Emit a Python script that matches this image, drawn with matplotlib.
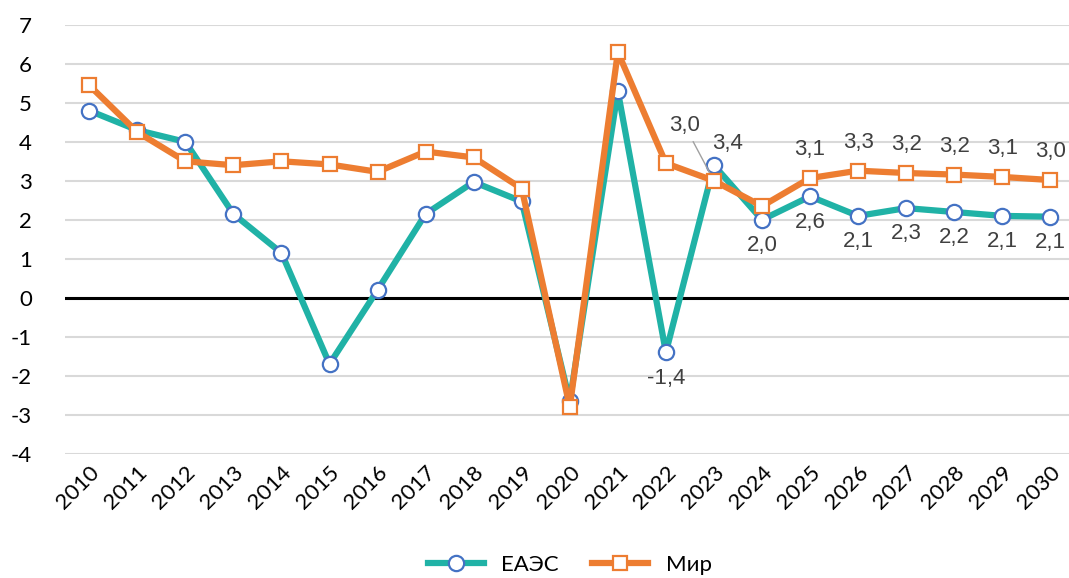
import matplotlib
matplotlib.use("Agg")
import matplotlib.pyplot as plt

years = list(range(2010, 2031))
eaes = [4.8, 4.3, 4.0, 2.15, 1.15, -1.7, 0.2, 2.15, 2.97, 2.47, -2.65, 5.3, -1.4,
        3.4, 2.0, 2.6, 2.1, 2.3, 2.2, 2.1, 2.08]
mir = [5.45, 4.25, 3.5, 3.4, 3.5, 3.42, 3.23, 3.75, 3.6, 2.8, -2.8, 6.3, 3.45,
       3.0, 2.35, 3.07, 3.26, 3.2, 3.16, 3.1, 3.02]
y_ticks = list(range(-4, 8))

teal = "#20B2A6"
orange = "#ED7D31"
blue = "#4472C4"

fig = plt.figure(figsize=(10.69, 5.78), dpi=100)
# right edge of the plot area runs slightly past the figure, as in the source
ax = fig.add_axes([0.061, 0.215, 0.944, 0.742])

x = list(range(len(years)))
ax.plot(x, eaes, color=teal, lw=4.5, marker="o", ms=11, mfc="white",
        mec=blue, mew=1.6, label="ЕАЭС", zorder=3)
ax.plot(x, mir, color=orange, lw=4.5, marker="s", ms=10, mfc="white",
        mec=orange, mew=1.6, label="Мир", zorder=4)

ax.axhline(0, color="black", lw=2.2, zorder=2)
ax.set_ylim(-4, 7)
ax.set_xlim(-0.5, len(years) - 0.5)
ax.set_yticks(y_ticks)
ax.set_yticklabels([str(v) for v in y_ticks], family="Lato")
ax.grid(axis="y", color="#D9D9D9", lw=1.5, zorder=0)
ax.set_xticks(x)
ax.set_xticklabels([str(v) for v in years], rotation=45, ha="right",
                   rotation_mode="anchor", family="Lato")
for s in ax.spines.values():
    s.set_visible(False)
ax.tick_params(length=0, labelsize=16, colors="black", pad=6)
ax.tick_params(axis="y", pad=24)

lab_kw = dict(fontsize=16, color="#404040", ha="center", family="Liberation Sans")
fmt = lambda v: ("%.1f" % v).replace(".", ",")

# ЕАЭС labels
i23 = 2023 - 2010
for i in range(2022 - 2010, len(years)):
    if i == i23:
        ax.annotate(fmt(eaes[i]), (i, eaes[i]), xytext=(10, 8), textcoords="offset points",
                    va="bottom", **lab_kw)
    else:
        ax.annotate(fmt(eaes[i]), (i, eaes[i]), xytext=(0, -11), textcoords="offset points",
                    va="top", **lab_kw)

# Мир labels
ax.annotate(fmt(mir[i23]), (i23, mir[i23]), xytext=(-21, 32), textcoords="offset points",
            va="bottom", arrowprops=dict(arrowstyle="-", color="#A0A0A0", lw=1,
                                         shrinkA=2, shrinkB=0), **lab_kw)
for i in range(2025 - 2010, len(years)):
    ax.annotate(fmt(mir[i]), (i, mir[i]), xytext=(0, 13), textcoords="offset points",
                va="bottom", **lab_kw)

ax.legend(loc="center", bbox_to_anchor=(0.5, -0.259), ncol=2, frameon=False,
          prop=dict(family="Lato", size=16), handlelength=2.5, columnspacing=1.5)

fig.savefig("out.png", dpi=100)
